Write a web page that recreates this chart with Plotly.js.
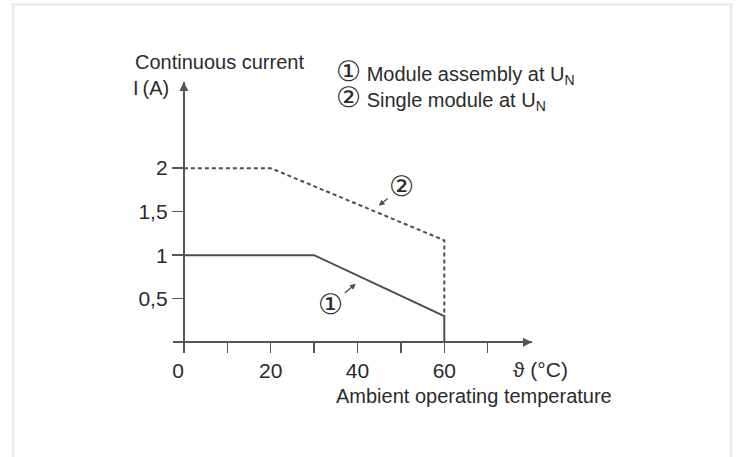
<!DOCTYPE html>
<html><head><meta charset="utf-8">
<script src="https://cdn.plot.ly/plotly-3.0.1.min.js"></script>
<style>html,body{margin:0;padding:0;background:#fff}#chart{width:739px;height:457px}</style>
</head><body><div id="chart"></div>
<script>
// ---- data ----
const temperatureAssembly = [0, 30, 60, 60];
const currentAssembly = [1, 1, 0.3, 0];
const temperatureSingle = [0, 20, 60, 60];
const currentSingle = [2, 2, 1.17, 0.3];
const xTickVals = [0, 20, 40, 60];
const xTickText = ['0\u00a0\u00a0', '20', '40', '60'];
const yTickVals = [0.5, 1, 1.5, 2];
const yTickText = ['0,5', '1', '1,5', '2'];

// ---- layout geometry ----
const W = 739, H = 457;
const X0 = 184.3, PXX = 4.34;
const Y0 = 342.5, PXY = 87.1;
const xr = [-2.5, 80.2], yr = [-0.09, 2.99];
const L = X0 + xr[0] * PXX, R = W - (X0 + xr[1] * PXX);
const T = Y0 - yr[1] * PXY, B = H - (Y0 - yr[0] * PXY);
const pw = W - L - R, ph = H - T - B;
const px = v => (v - L) / pw;
const py = v => (H - B - v) / ph;

const FONT = 'Liberation Sans, Arial, sans-serif';
const TXT = '#2b2b2b';
const LINE = '#4d4d4d';
const AX = '#555555';
const circ = c => '<span style="font-family:DejaVu Sans;font-size:28px">' + c + '</span>';

const traces = [
  {x: temperatureAssembly, y: currentAssembly, mode: 'lines', cliponaxis: false,
   line: {color: LINE, width: 2}},
  {x: temperatureSingle, y: currentSingle, mode: 'lines', cliponaxis: false,
   line: {color: LINE, width: 2, dash: '4px,3px'}}
];

function txt(text, x, y, xanchor, size) {
  return {text: text, xref: 'paper', yref: 'paper', x: px(x), y: py(y),
    xanchor: xanchor, yanchor: 'middle', align: 'left', showarrow: false,
    font: {family: FONT, size: size || 20, color: TXT}};
}

const annotations = [
  // axis arrowheads
  {x: xr[1], y: 0, xref: 'x', yref: 'y', ax: -12, ay: 0, text: '', showarrow: true,
   arrowhead: 2, arrowsize: 1, arrowwidth: 1.8, arrowcolor: AX},
  {x: 0, y: yr[1], xref: 'x', yref: 'y', ax: 0, ay: 12, text: '', showarrow: true,
   arrowhead: 2, arrowsize: 1, arrowwidth: 1.8, arrowcolor: AX},
  txt('Continuous current', 133, 62, 'left'),
  txt('I\u2009(A)', 131, 88, 'left'),
  txt(circ('\u2460') + ' Module assembly at U<sub>N</sub><br>' +
      circ('\u2461') + ' Single module at U<sub>N</sub>', 334, 85, 'left'),
  txt('\u03d1 (°C)', 541, 370, 'center', 21),
  txt('Ambient operating temperature', 334, 396, 'left'),
  // curve labels
  {x: 44.9, y: 1.567, xref: 'x', yref: 'y', ax: 23, ay: -19, text: circ('\u2461'), showarrow: true,
   arrowhead: 2, arrowsize: 0.9, arrowwidth: 1.3, arrowcolor: LINE,
   font: {family: FONT, size: 20, color: TXT}},
  {x: 39.6, y: 0.672, xref: 'x', yref: 'y', ax: -25, ay: 21, text: circ('\u2460'), showarrow: true,
   arrowhead: 2, arrowsize: 0.9, arrowwidth: 1.3, arrowcolor: LINE,
   font: {family: FONT, size: 20, color: TXT}}
];

const layout = {
  width: W, height: H,
  margin: {l: L, r: R, t: T, b: B, pad: 0},
  paper_bgcolor: '#ffffff', plot_bgcolor: '#ffffff',
  showlegend: false,
  font: {family: FONT, size: 20, color: TXT},
  xaxis: {range: xr, anchor: 'free', position: (0 - yr[0]) / (yr[1] - yr[0]),
    showline: true, linecolor: AX, linewidth: 2, zeroline: false, showgrid: false,
    ticks: 'outside', ticklen: 10, tickwidth: 1.5, tickcolor: AX,
    tickmode: 'array', tickvals: xTickVals, ticktext: xTickText,
    minor: {tick0: 10, dtick: 20, ticks: 'outside', ticklen: 10, tickwidth: 1.5, tickcolor: AX, showgrid: false},
    tickfont: {family: FONT, size: 21, color: TXT}},
  yaxis: {range: yr, anchor: 'free', position: (0 - xr[0]) / (xr[1] - xr[0]),
    showline: true, linecolor: AX, linewidth: 2, zeroline: false, showgrid: false,
    ticks: 'outside', ticklen: 11, tickwidth: 1.5, tickcolor: AX,
    tickmode: 'array', tickvals: yTickVals, ticktext: yTickText,
    tickfont: {family: FONT, size: 21, color: TXT}},
  shapes: [
    {type: 'rect', xref: 'paper', yref: 'paper', x0: px(13.5), x1: px(731.5),
     y0: py(4.5), y1: py(475), line: {color: '#ececec', width: 3}, layer: 'below'}
  ],
  annotations: annotations
};

Plotly.newPlot('chart', traces, layout, {staticPlot: true, displayModeBar: false});
</script>
</body></html>
